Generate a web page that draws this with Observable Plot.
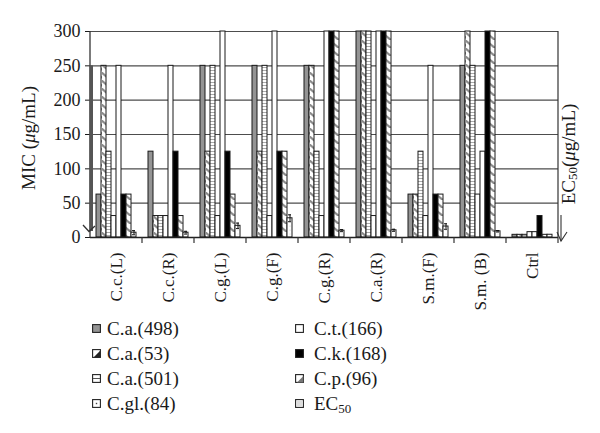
<!DOCTYPE html>
<html>
<head>
<meta charset="utf-8">
<script src="https://cdn.jsdelivr.net/npm/d3@7"></script>
<script src="https://cdn.jsdelivr.net/npm/@observablehq/plot@0.6"></script>
<style>
  html, body { margin: 0; padding: 0; background: #fff; }
  #wrap { position: relative; width: 600px; height: 433px; font-family: "Liberation Serif", serif; color: #1a1a1a; }
  #wrap svg.plot { display: block; }
  .leg { position: absolute; font-size: 19px; line-height: 25px; white-space: nowrap; }
  .leg .row { position: relative; height: 25px; }
  .leg svg { position: absolute; top: 8px; }
  .leg span.t { position: absolute; top: 0; }
  .leg sub { font-size: 13px; vertical-align: -3px; line-height: 0; }
</style>
</head>
<body>
<svg width="0" height="0" style="position:absolute">
  <defs>
    <pattern id="hatchA" patternUnits="userSpaceOnUse" width="6" height="8">
      <rect width="6" height="8" fill="#fff"/>
      <path d="M-1,0 L6,6" stroke="#8c8c8c" stroke-width="2.2"/>
    </pattern>
    <pattern id="hatchB" patternUnits="userSpaceOnUse" width="6" height="8">
      <rect width="6" height="8" fill="#fff"/>
      <path d="M-1,3 L6,9" stroke="#8c8c8c" stroke-width="2.2"/>
    </pattern>
    <pattern id="hlines" patternUnits="userSpaceOnUse" width="6" height="3">
      <rect width="6" height="3" fill="#fff"/>
      <line x1="0" y1="1.5" x2="6" y2="1.5" stroke="#a0a0a0" stroke-width="0.9"/>
    </pattern>
    <pattern id="dots" patternUnits="userSpaceOnUse" width="6" height="9">
      <rect width="6" height="9" fill="#fff"/>
      <circle cx="3" cy="4" r="0.6" fill="#8a8a8a"/>
    </pattern>
    <pattern id="dotsLight" patternUnits="userSpaceOnUse" width="4" height="4">
      <rect width="4" height="4" fill="#fff"/>
      <circle cx="2" cy="2" r="0.5" fill="#c8c8c8"/>
    </pattern>
  </defs>
</svg>
<div id="wrap"></div>
<script>
// ---- data ----
const groups = ["C.c.(L)", "C.c.(R)", "C.g.(L)", "C.g.(F)", "C.g.(R)", "C.a.(R)", "S.m.(F)", "S.m. (B)", "Ctrl"];
const seriesNames = ["C.a.(498)", "C.a.(53)", "C.a.(501)", "C.gl.(84)", "C.t.(166)", "C.k.(168)", "C.p.(96)", "EC50"];
const ca498 = [62.5, 125, 250, 250, 250, 300, 62.5, 250, 3.9];
const ca53  = [250, 31.25, 125, 125, 250, 300, 62.5, 300, 3.9];
const ca501 = [125, 31.25, 250, 250, 125, 300, 125, 250, 3.9];
const cgl84 = [31.25, 31.25, 31.25, 31.25, 31.25, 31.25, 31.25, 62.5, 7.8];
const ct166 = [250, 250, 300, 300, 300, 300, 250, 125, 7.8];
const ck168 = [62.5, 125, 125, 125, 300, 300, 62.5, 300, 31.25];
const cp96  = [62.5, 31.25, 62.5, 125, 300, 300, 62.5, 300, 3.9];
const ec50    = [7, 7, 17, 28, 10, 10.5, 16, 9, 4];
const ec50Err = [3, 2, 4, 5, 1.5, 1.5, 4, 1, 0];
const yTicks = [0, 50, 100, 150, 200, 250, 300];
const yLabel = "MIC";
const ecLabel = "EC";

// ---- table ----
const seriesValues = [ca498, ca53, ca501, cgl84, ct166, ck168, cp96, ec50];
const rows = [];
groups.forEach((g, i) => {
  seriesNames.forEach((s, j) => {
    rows.push({group: g, series: s, value: seriesValues[j][i], err: s === "EC50" ? ec50Err[i] : 0});
  });
});
const errRows = rows.filter(d => d.series === "EC50" && d.err > 0);

const fills = {
  "C.a.(498)": "#949494",
  "C.a.(53)": "url(#hatchA)",
  "C.a.(501)": "url(#hlines)",
  "C.gl.(84)": "url(#dots)",
  "C.t.(166)": "#ffffff",
  "C.k.(168)": "#000000",
  "C.p.(96)": "url(#hatchB)",
  "EC50": "url(#dotsLight)"
};

const W = 600, H = 312;
const plot = Plot.plot({
  width: W,
  height: H,
  marginLeft: 90,
  marginRight: 42,
  marginTop: 31,
  marginBottom: 75,
  style: {fontFamily: "Liberation Serif, serif", fontSize: "18px", color: "#1a1a1a", background: "#fff"},
  fx: {domain: groups, padding: 0, label: null},
  x: {domain: seriesNames, paddingInner: 0, paddingOuter: 0.55, axis: null},
  y: {domain: [0, 300], label: null},
  marks: [
    Plot.ruleY(yTicks.slice(1), {stroke: "#4d4d4d", strokeWidth: 1.2}),
    ...seriesNames.map(s => Plot.barY(rows, {
      filter: d => d.series === s,
      fx: "group", x: "series", y: "value",
      fill: fills[s], stroke: "#1a1a1a", strokeWidth: 1
    })),
    Plot.ruleX(errRows, {fx: "group", x: "series", y1: d => d.value - d.err, y2: d => d.value + d.err, stroke: "#111", strokeWidth: 1}),
    Plot.tickY(errRows, {fx: "group", x: "series", y: d => d.value + d.err, stroke: "#111", strokeWidth: 1, inset: 1}),
    Plot.tickY(errRows, {fx: "group", x: "series", y: d => d.value - d.err, stroke: "#111", strokeWidth: 1, inset: 1}),
    Plot.ruleY([0], {stroke: "#222", strokeWidth: 1.3}),
    Plot.axisY({ticks: yTicks, tickSize: 5, tickPadding: 5, fontSize: 18, label: null}),
    Plot.axisFx({anchor: "bottom", tickRotate: -90, tickSize: 0, tickPadding: 15, fontSize: 17, label: null})
  ]
});
plot.classList.add("plot");
document.getElementById("wrap").appendChild(plot);

// ---- frame, boundary ticks, arrows and side labels from the plot's scales ----
const ys = plot.scale("y"), fxs = plot.scale("fx");
const y0 = ys.apply(0), yTop = ys.apply(300);
const xL = fxs.apply(groups[0]);
const xR = fxs.apply(groups[groups.length - 1]) + fxs.bandwidth;
const svg = d3.select(plot);
const deco = svg.append("g").attr("fill", "none").attr("stroke", "#333");
deco.append("line").attr("x1", xL).attr("x2", xL).attr("y1", y0 + 0.5).attr("y2", yTop).attr("stroke-width", 1.3);
deco.append("line").attr("x1", xR).attr("x2", xR).attr("y1", y0).attr("y2", yTop).attr("stroke-width", 1.2);
groups.forEach(g => {
  const bx = fxs.apply(g) + fxs.bandwidth;
  deco.append("line").attr("x1", bx).attr("x2", bx).attr("y1", y0).attr("y2", y0 + 6).attr("stroke-width", 1.2);
});
// left dark arrow
deco.append("rect").attr("x", xL - 0.5).attr("width", 3.5).attr("y", ys.apply(250)).attr("height", y0 - 6 - ys.apply(250))
  .attr("fill", "#555").attr("stroke", "none");
deco.append("path").attr("d", `M${xL - 7},${y0 - 12} L${xL - 1},${y0 - 5.5} L${xL + 5},${y0 - 11}`).attr("stroke-width", 1.3);
// right arrow
deco.append("path").attr("d", `M${xR + 3},${y0 - 22} L${xR + 3},${y0 + 4}`).attr("stroke-width", 1.1);
deco.append("path").attr("d", `M${xR - 1},${y0 - 5} L${xR + 3},${y0 + 4} L${xR + 9},${y0 - 5}`).attr("stroke-width", 1.1);

// MIC axis label
const lab = svg.append("text")
  .attr("transform", `translate(31,${(y0 + yTop) / 2 + 4}) rotate(-90)`)
  .attr("text-anchor", "middle").attr("dominant-baseline", "middle")
  .attr("font-size", 19).attr("fill", "#1a1a1a");
lab.append("tspan").text(yLabel + " (");
lab.append("tspan").attr("font-style", "italic").text("μ");
lab.append("tspan").text("g/mL)");
// EC50 label
const ec = svg.append("text")
  .attr("transform", `translate(${xR + 13},${(y0 + yTop) / 2 + 20}) rotate(-90)`)
  .attr("text-anchor", "middle").attr("dominant-baseline", "middle")
  .attr("font-size", 19).attr("fill", "#1a1a1a");
ec.append("tspan").text(ecLabel);
ec.append("tspan").attr("font-size", 13).attr("dy", 3).text("50");
ec.append("tspan").attr("dy", -3).text("(");
ec.append("tspan").attr("font-style", "italic").text("μ");
ec.append("tspan").text("g/mL)");

// ---- legend ----
function swatch(s) {
  const el = d3.create("svg").attr("width", 9).attr("height", 9);
  const base = s === "C.a.(498)" ? "#949494" : s === "C.k.(168)" ? "#000" : "#fff";
  el.append("rect").attr("x", 0.6).attr("y", 0.6).attr("width", 7.8).attr("height", 7.8).attr("fill", base).attr("stroke", "#222").attr("stroke-width", 1.1);
  if (s === "C.a.(53)") el.append("path").attr("d", "M8.4,1.5 L8.4,8.4 L1.5,8.4 Z").attr("fill", "#222");
  if (s === "C.p.(96)") el.append("path").attr("d", "M8.4,2 L8.4,8.4 L2,8.4 Z").attr("fill", "#777");
  if (s === "C.a.(501)") el.append("line").attr("x1", 1).attr("x2", 8).attr("y1", 4.5).attr("y2", 4.5).attr("stroke", "#555").attr("stroke-width", 1);
  if (s === "C.gl.(84)") el.append("rect").attr("x", 3.8).attr("y", 3.8).attr("width", 1.4).attr("height", 1.4).attr("fill", "#444");
  if (s === "EC50") el.append("rect").attr("x", 1.8).attr("y", 1.8).attr("width", 5.4).attr("height", 5.4).attr("fill", "#ddd");
  return el.node();
}
const colDefs = [
  {left: 92, textLeft: 107, items: seriesNames.slice(0, 4)},
  {left: 295, textLeft: 314, items: seriesNames.slice(4)}
];
colDefs.forEach(c => {
  const col = document.createElement("div");
  col.className = "leg";
  col.style.left = "0px";
  col.style.top = "316px";
  col.style.width = "600px";
  c.items.forEach(s => {
    const row = document.createElement("div");
    row.className = "row";
    const sw = swatch(s);
    sw.style.left = c.left + "px";
    row.appendChild(sw);
    const t = document.createElement("span");
    t.className = "t";
    t.style.left = c.textLeft + "px";
    if (s === "EC50") t.innerHTML = "EC<sub>50</sub>"; else t.textContent = s;
    row.appendChild(t);
    col.appendChild(row);
  });
  document.getElementById("wrap").appendChild(col);
});
</script>
</body>
</html>
